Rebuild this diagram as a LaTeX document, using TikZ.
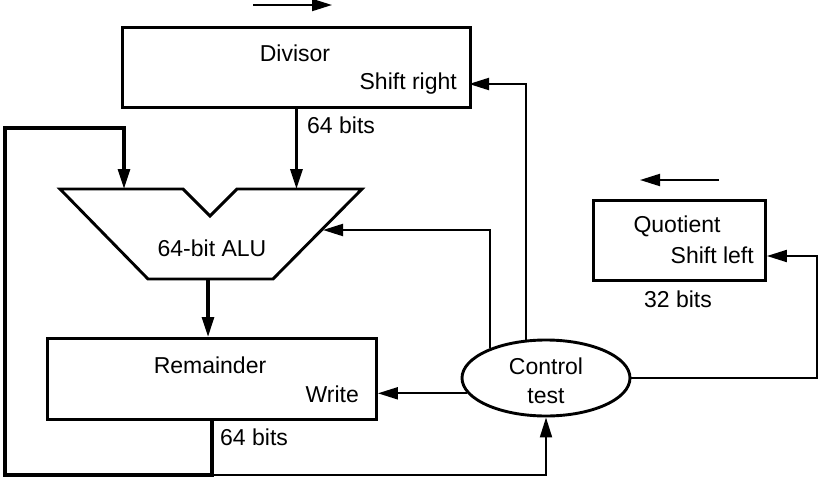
\documentclass[tikz,border=0pt]{standalone}
\usepackage{fontspec}
\setmainfont{Liberation Sans}
\usetikzlibrary{arrows.meta,shapes.geometric,calc}
\begin{document}
\begin{tikzpicture}[x=1pt,y=-1pt,
  regbox/.style={draw, line width=2.9pt, inner sep=0pt, anchor=north west},
  lbl/.style={font=\fontsize{23}{27}\selectfont, inner sep=0pt},
  wire/.style={line width=2pt, line join=miter},
  bus/.style={line width=3.2pt, line join=miter},
  arr/.style={-{Triangle[length=20pt,width=12pt]}}
]
\useasboundingbox (0,0) rectangle (823,480);

% registers
\node[regbox, minimum width=348pt, minimum height=80pt] (div) at (121,26) {};
\node[regbox, minimum width=329pt, minimum height=81pt] (rem) at (46,337) {};
\node[regbox, minimum width=172pt, minimum height=80pt] (quo) at (592,199) {};
\node[draw, ellipse, line width=2.9pt, minimum width=168pt, minimum height=76pt, inner sep=0pt] (ctl) at (546,378) {};

% ALU outline
\coordinate (a1) at (60,189);
\coordinate (a2) at (183,189);
\coordinate (a3) at (210,216);
\coordinate (a4) at (237,189);
\coordinate (a5) at (362,189);
\coordinate (a6) at (273,279);
\coordinate (a7) at (148,279);
\draw[line width=2.9pt, line join=miter] (a1) -- (a2) -- (a3) -- (a4) -- (a5) -- (a6) -- (a7) -- cycle;

% labels
\node[lbl, anchor=base] (tdiv) at (295,61) {Divisor};
\node[lbl, anchor=base east] (tsr) at (457,89) {Shift right};
\node[lbl, anchor=base west] (t64a) at (307,133) {64 bits};
\node[lbl, anchor=base] (talu) at (212,256) {64-bit ALU};
\node[lbl, anchor=base] (trem) at (210,373) {Remainder};
\node[lbl, anchor=base east] (twr) at (359,402) {Write};
\node[lbl, anchor=base west] (t64b) at (220,445) {64 bits};
\node[lbl, anchor=base] (tctl) at (546,374) {Control};
\node[lbl, anchor=base] (ttest) at (546,403) {test};
\node[lbl, anchor=base] (tquo) at (677,232) {Quotient};
\node[lbl, anchor=base east] (tsl) at (754,263) {Shift left};
\node[lbl, anchor=base] (t32) at (678,307) {32 bits};

% direction arrows
\coordinate (ra1) at (253,5);
\coordinate (ra2) at (332,5);
\draw[wire, arr] (ra1) -- (ra2);
\coordinate (la1) at (719,180);
\coordinate (la2) at (640,180);
\draw[wire, arr] (la1) -- (la2);

% coordinates for connectors
\coordinate (dsr) at (469,84);
\coordinate (ain) at (323,230);
\coordinate (aout) at (208,279);
\coordinate (lin) at (124,189);
\coordinate (lb) at (5,475);
\coordinate (lt) at (5,128);
\coordinate (qr) at (817,256);

% datapath
\draw[bus, arr] (div.south) -- (div.south |- a5);
\draw[bus, arr] (aout) -- (aout |- rem.north);
\draw[bus, arr] (rem.south) |- (lb) -- (lt) -| (lin);
\draw[wire, arr] (rem.south |- lb) -| (ctl.south);

% control
\draw[wire, arr] (ctl.152) |- (ain);
\draw[wire, arr] (ctl.118.5) |- (dsr);
\draw[wire, arr] (ctl.191) -- (ctl.191 -| rem.east);
\draw[wire, arr] (ctl.east) -| (qr) -- (qr -| quo.east);
\end{tikzpicture}
\end{document}
